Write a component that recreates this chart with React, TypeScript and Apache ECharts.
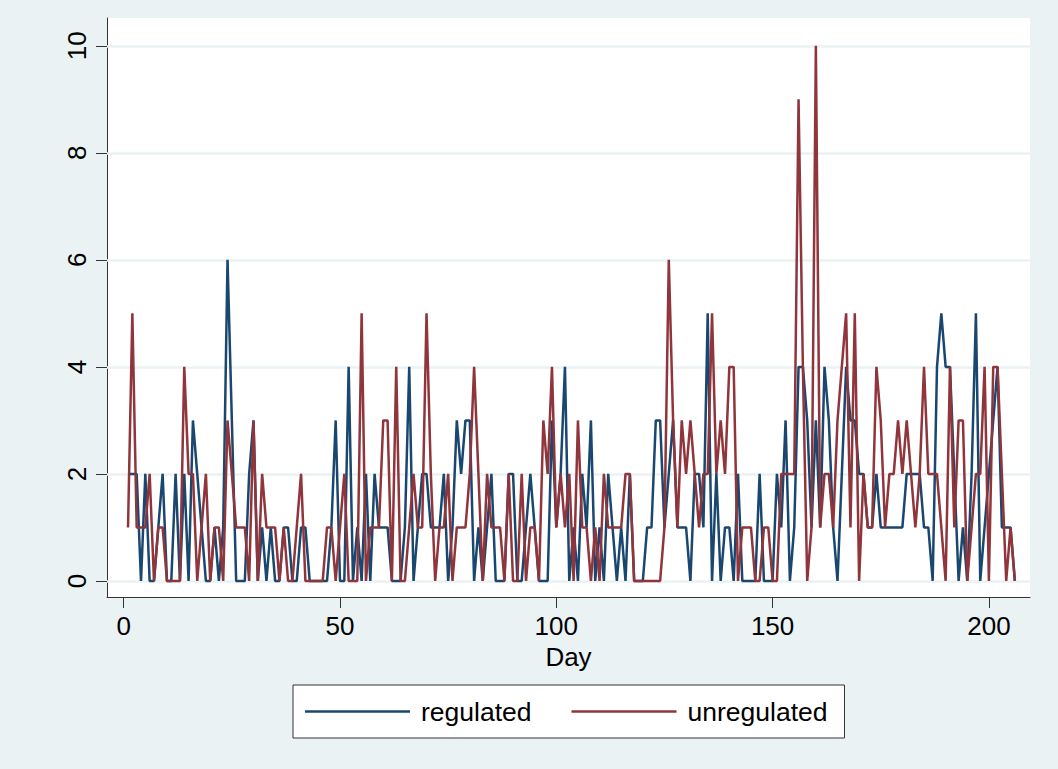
import React, { useEffect, useRef } from "react";
import * as echarts from "echarts";

const regulated = [
  2, 2, 2, 0, 2, 0, 0, 1, 2, 0,
  0, 2, 0, 2, 0, 3, 2, 1, 0, 0,
  1, 0, 1, 6, 3, 0, 0, 0, 2, 3,
  0, 1, 0, 1, 0, 0, 1, 1, 0, 0,
  1, 1, 0, 0, 0, 0, 0, 1, 3, 0,
  0, 4, 0, 1, 0, 2, 0, 2, 1, 1,
  1, 0, 0, 0, 1, 4, 0, 1, 2, 2,
  1, 1, 1, 2, 0, 1, 3, 2, 3, 3,
  0, 1, 0, 1, 2, 0, 0, 0, 2, 2,
  0, 0, 1, 2, 1, 0, 0, 0, 3, 1,
  2, 4, 0, 1, 0, 2, 1, 3, 0, 1,
  0, 2, 1, 0, 1, 0, 2, 0, 0, 0,
  1, 1, 3, 3, 1, 2, 3, 1, 1, 1,
  0, 2, 2, 1, 5, 0, 2, 0, 1, 1,
  0, 2, 0, 0, 0, 0, 2, 0, 0, 0,
  2, 1, 3, 0, 1, 4, 4, 3, 1, 3,
  1, 4, 3, 1, 0, 2, 4, 3, 3, 2,
  2, 1, 1, 2, 1, 1, 1, 1, 1, 1,
  2, 2, 2, 2, 1, 1, 0, 4, 5, 4,
  4, 2, 0, 1, 0, 2, 5, 0, 1, 2,
  3, 4, 1, 1, 1, 0,
];

const unregulated = [
  1, 5, 1, 1, 1, 2, 0, 1, 1, 0,
  0, 0, 0, 4, 2, 2, 0, 1, 2, 0,
  1, 1, 0, 3, 2, 1, 1, 1, 0, 3,
  0, 2, 1, 1, 1, 0, 1, 0, 0, 1,
  2, 0, 0, 0, 0, 0, 1, 1, 0, 1,
  2, 0, 0, 0, 5, 0, 1, 1, 1, 3,
  3, 0, 4, 0, 0, 1, 2, 1, 1, 5,
  2, 0, 1, 1, 2, 0, 1, 1, 1, 2,
  4, 2, 0, 2, 1, 1, 1, 0, 2, 0,
  0, 2, 0, 1, 1, 0, 3, 2, 4, 1,
  2, 1, 2, 0, 3, 1, 1, 0, 1, 0,
  2, 1, 1, 1, 1, 2, 2, 0, 0, 0,
  0, 0, 0, 0, 1, 6, 3, 1, 3, 2,
  3, 2, 1, 2, 2, 5, 2, 3, 2, 4,
  4, 0, 1, 1, 1, 0, 0, 1, 1, 0,
  0, 2, 2, 2, 2, 9, 4, 0, 1, 10,
  1, 2, 2, 1, 3, 4, 5, 1, 5, 0,
  2, 1, 1, 4, 3, 1, 2, 2, 3, 2,
  3, 2, 1, 2, 4, 2, 2, 2, 1, 0,
  4, 1, 3, 3, 0, 1, 2, 2, 4, 0,
  4, 4, 2, 0, 1, 0,
];

const firstDay = 1;
const xTicks = [0, 50, 100, 150, 200];
const yTicks = [0, 2, 4, 6, 8, 10];
const seriesNames = ["regulated", "unregulated"];

const BLUE = "#1A476F";
const RED = "#90353B";
const BG = "#EAF2F3";
const FONT = "Liberation Sans, Arial, sans-serif";
const FS = 26;

export default function App() {
  const ref = useRef<HTMLDivElement>(null);

  useEffect(() => {
    if (!ref.current) return;
    const chart = echarts.init(ref.current, undefined, { renderer: "svg" });
    const toPairs = (arr: number[]) => arr.map((v, i) => [firstDay + i, v]);

    chart.setOption({
      animation: false,
      backgroundColor: BG,
      textStyle: { fontFamily: FONT },
      grid: {
        left: 107,
        right: 28,
        top: 18,
        bottom: 172,
        show: true,
        backgroundColor: "#ffffff",
        borderWidth: 0,
      },
      xAxis: {
        type: "value",
        min: -3.86,
        max: 209.5,
        name: "Day",
        nameLocation: "middle",
        nameGap: 41,
        nameTextStyle: { fontSize: FS, color: "#000", fontFamily: FONT },
        axisLine: { show: true, onZero: false, lineStyle: { color: "#333", width: 1 } },
        axisTick: { show: true, length: 11, customValues: xTicks, lineStyle: { color: "#333", width: 1 } },
        axisLabel: { customValues: xTicks, fontSize: FS, color: "#000", margin: 16, fontFamily: FONT },
        splitLine: { show: false },
      },
      yAxis: {
        type: "value",
        min: -0.3,
        max: 10.52,
        axisLine: { show: true, onZero: false, lineStyle: { color: "#333", width: 1 } },
        axisTick: { show: true, length: 11, customValues: yTicks, lineStyle: { color: "#333", width: 1 } },
        axisLabel: { customValues: yTicks, fontSize: FS, color: "#000", margin: 17, rotate: 90, fontFamily: FONT },
        splitLine: { show: false },
      },
      legend: {
        data: seriesNames,
        left: 293,
        top: 685,
        orient: "horizontal",
        icon: "rect",
        itemWidth: 105,
        itemHeight: 2.5,
        itemGap: 40,
        padding: [13, 17, 13, 12],
        backgroundColor: "#ffffff",
        borderColor: "#333",
        borderWidth: 1,
        borderRadius: 0,
        textStyle: { fontSize: 26.5, color: "#000", fontFamily: FONT, padding: [0, 0, 0, 6] },
      },
      series: [
        {
          name: "grid",
          type: "line",
          data: [],
          z: 1,
          silent: true,
          markLine: {
            silent: true,
            z: 1,
            zlevel: 0,
            symbol: "none",
            label: { show: false },
            emphasis: { disabled: true },
            lineStyle: { color: BG, width: 2.5, type: "solid" },
            data: yTicks.map((v) => ({ yAxis: v })),
          },
        },
        {
          name: seriesNames[0],
          type: "line",
          data: toPairs(regulated),
          showSymbol: false,
          symbol: "none",
          z: 3,
          color: BLUE,
          lineStyle: { color: BLUE, width: 2.5 },
        },
        {
          name: seriesNames[1],
          type: "line",
          data: toPairs(unregulated),
          showSymbol: false,
          symbol: "none",
          z: 4,
          color: RED,
          lineStyle: { color: RED, width: 2.5 },
        },
      ],
    });

    return () => chart.dispose();
  }, []);

  return (
    <div
      ref={ref}
      style={{ position: "absolute", left: 0, top: 0, width: 1058, height: 769 }}
    />
  );
}
